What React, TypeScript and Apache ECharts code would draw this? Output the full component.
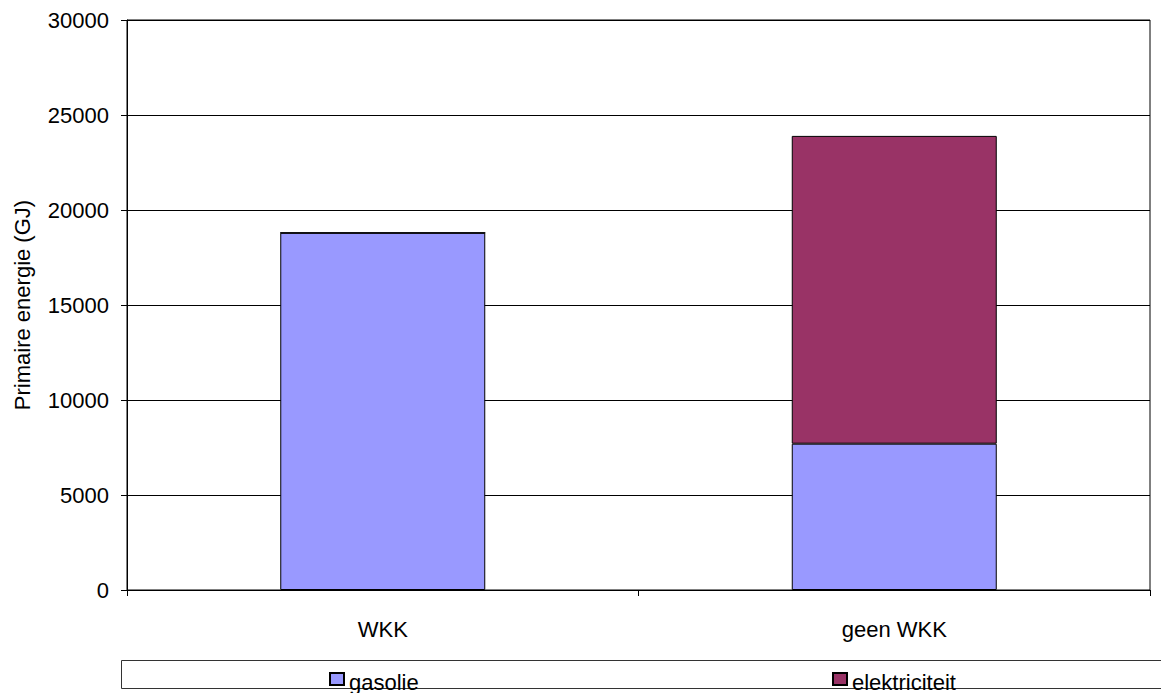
import React, { useEffect, useRef } from "react";
import * as echarts from "echarts";

const categories = ["WKK", "geen WKK"];
const gasolie = [18800, 7700];
const elektriciteit = [0, 16200];
const yTicks = { min: 0, max: 30000, interval: 5000 };
const yName = "Primaire energie (GJ)";

export default function App() {
  const ref = useRef<HTMLDivElement>(null);
  useEffect(() => {
    const chart = echarts.init(ref.current!, null, { renderer: "svg" });
    const font = "Liberation Sans, Arial, sans-serif";
    const fs = 22;
    const legendBase = {
      top: 671,
      itemWidth: 14,
      itemHeight: 12,
      itemGap: 4,
      icon: "rect",
      formatter: (n: string) => `{t|${n}}`,
      textStyle: {
        color: "#000",
        fontSize: fs,
        fontFamily: font,
        rich: {
          t: { fontSize: fs, fontFamily: font, color: "#000", lineHeight: 28, verticalAlign: "bottom" },
        },
      },
      padding: 0,
    };
    chart.setOption({
      animation: false,
      backgroundColor: "#fff",
      textStyle: { fontFamily: font },
      grid: {
        left: 127,
        top: 20,
        right: 11,
        bottom: 103,
        show: true,
        borderColor: "#000",
        borderWidth: 1,
      },
      xAxis: {
        type: "category",
        data: categories,
        axisLine: { lineStyle: { color: "#000", width: 1 } },
        axisTick: { show: true, length: 6, alignWithLabel: false, lineStyle: { color: "#000" } },
        axisLabel: { color: "#000", fontSize: fs, margin: 28, fontFamily: font },
      },
      yAxis: {
        type: "value",
        min: yTicks.min,
        max: yTicks.max,
        interval: yTicks.interval,
        name: yName,
        nameLocation: "middle",
        nameGap: 94,
        nameTextStyle: { color: "#000", fontSize: fs, fontFamily: font },
        axisLine: { show: true, lineStyle: { color: "#000", width: 1 } },
        axisTick: { show: true, length: 6, lineStyle: { color: "#000" } },
        axisLabel: {
          color: "#000",
          fontSize: fs,
          margin: 18,
          fontFamily: font,
          formatter: (v: number) => String(v),
        },
        splitLine: { show: true, lineStyle: { color: "#000", width: 1 } },
      },
      legend: [
        { ...legendBase, data: ["gasolie"], left: 329 },
        { ...legendBase, data: ["elektriciteit"], left: 832 },
      ],
      graphic: [
        {
          type: "rect",
          shape: { x: 121.5, y: 660.5, width: 1100, height: 28 },
          style: { fill: "none", stroke: "#333", lineWidth: 1 },
          z: -1,
          silent: true,
        },
      ],
      series: [
        {
          name: "gasolie",
          type: "bar",
          stack: "total",
          data: gasolie,
          barWidth: 205,
          itemStyle: { color: "#9999FF", borderColor: "#000", borderWidth: 1 },
        },
        {
          name: "elektriciteit",
          type: "bar",
          stack: "total",
          data: elektriciteit,
          barWidth: 205,
          itemStyle: { color: "#993366", borderColor: "#000", borderWidth: 1 },
        },
      ],
    });
    return () => chart.dispose();
  }, []);
  return (
    <div
      ref={ref}
      style={{ position: "fixed", left: 0, top: 0, width: 1161, height: 693 }}
    />
  );
}
